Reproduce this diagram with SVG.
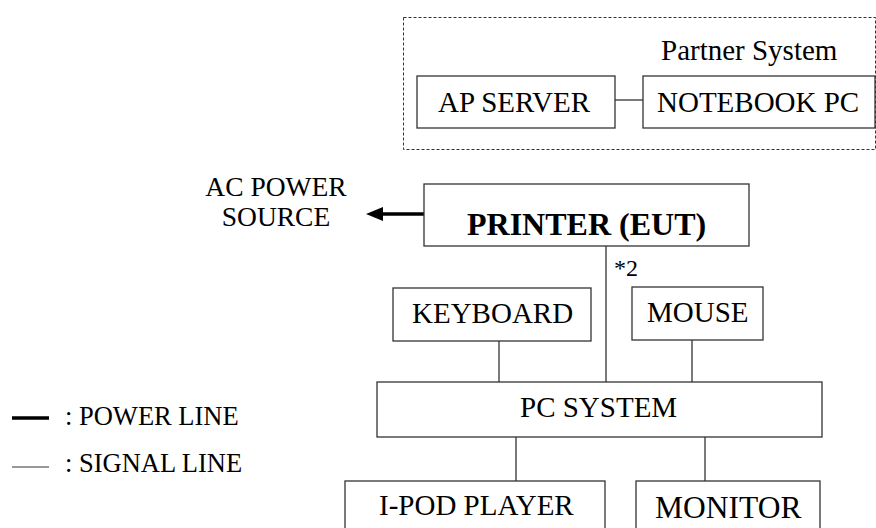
<svg xmlns="http://www.w3.org/2000/svg" width="876" height="528" viewBox="0 0 876 528">
<defs>
<style>
.b{fill:#fff;stroke:#333;stroke-width:1.3}
.t{font-family:"Liberation Serif","Times New Roman",serif;font-size:29px;fill:#000}
.s{stroke:#333;stroke-width:1.3;fill:none}
.p{stroke:#000;stroke-width:3.5;fill:none}
</style>
</defs>
<rect width="876" height="528" fill="#fff"/>
<g id="partner">
<rect x="403.5" y="17.5" width="472" height="132" fill="none" stroke="#333" stroke-width="1" stroke-dasharray="3,2"/>
<text class="t" x="661" y="60">Partner System</text>
</g>
<g id="connectors">
<line class="s" x1="615" y1="100" x2="643" y2="100"/>
<line class="s" x1="606" y1="246" x2="606" y2="382"/>
<line class="s" x1="499" y1="341" x2="499" y2="382"/>
<line class="s" x1="692" y1="340" x2="692" y2="382"/>
<line class="s" x1="516" y1="437" x2="516" y2="481"/>
<line class="s" x1="705" y1="437" x2="705" y2="481"/>
<line class="p" x1="424" y1="214" x2="380" y2="214"/>
<polygon points="366,214 383,207 383,221" fill="#000"/>
</g>
<g id="ap-server">
<rect class="b" x="417" y="76" width="198" height="52"/>
<text class="t" x="438" y="112">AP SERVER</text>
</g>
<g id="notebook-pc">
<rect class="b" x="643" y="76" width="232" height="52"/>
<text class="t" x="657" y="112">NOTEBOOK PC</text>
</g>
<g id="ac-power">
<text class="t" x="276" y="196" text-anchor="middle" style="font-size:27.5px">AC POWER</text>
<text class="t" x="276" y="226" text-anchor="middle" style="font-size:27.5px">SOURCE</text>
</g>
<g id="printer">
<rect class="b" x="424" y="184" width="325" height="62"/>
<text class="t" x="467" y="235" style="font-weight:bold;font-size:32px">PRINTER (EUT)</text>
</g>
<text class="t" x="614" y="276" style="font-size:24px">*2</text>
<g id="keyboard">
<rect class="b" x="393" y="288" width="198" height="53"/>
<text class="t" x="412" y="323">KEYBOARD</text>
</g>
<g id="mouse">
<rect class="b" x="632" y="287" width="131" height="53"/>
<text class="t" x="647" y="322">MOUSE</text>
</g>
<g id="pc-system">
<rect class="b" x="377" y="382" width="445" height="55"/>
<text class="t" x="520" y="417">PC SYSTEM</text>
</g>
<g id="ipod-player">
<rect class="b" x="345" y="481" width="260" height="60"/>
<text class="t" x="379" y="515">I-POD PLAYER</text>
</g>
<g id="monitor">
<rect class="b" x="636" y="481" width="184" height="60"/>
<text class="t" x="655" y="518" style="font-size:31.5px">MONITOR</text>
</g>
<g id="legend">
<line class="p" x1="12" y1="418" x2="49" y2="418"/>
<text class="t" x="65" y="425" style="font-size:26.5px">: POWER LINE</text>
<line x1="12" y1="467" x2="49" y2="467" stroke="#333" stroke-width="1"/>
<text class="t" x="65" y="472" style="font-size:26.5px">: SIGNAL LINE</text>
</g>
</svg>
